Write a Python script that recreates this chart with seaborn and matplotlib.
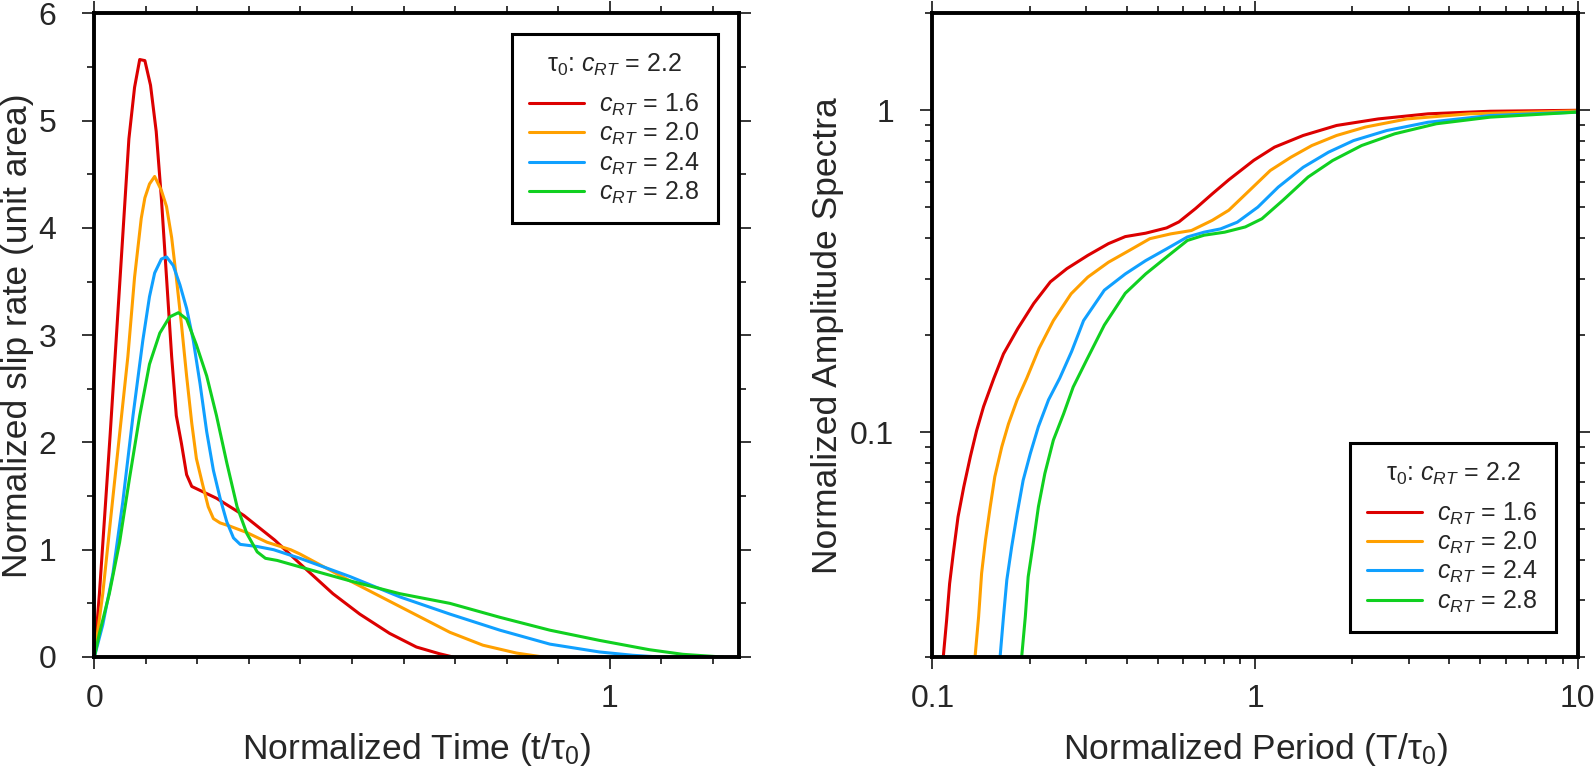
import numpy as np
import pandas as pd
import matplotlib
matplotlib.use("Agg")
import matplotlib.pyplot as plt
import seaborn as sns
from matplotlib.ticker import FixedLocator, MultipleLocator, NullFormatter, FixedFormatter, LogLocator

# ---------------- data ----------------
crt_labels = [r"$c_{RT}$ = 1.6", r"$c_{RT}$ = 2.0", r"$c_{RT}$ = 2.4", r"$c_{RT}$ = 2.8"]
legend_title = r"τ$_0$: $c_{RT}$ = 2.2"
line_colors = ["#dc0000", "#ffa000", "#10a0ff", "#10d020"]

# left panel: normalized slip rate vs normalized time
t_16 = [0, 0.0098, 0.0306, 0.050, 0.067, 0.078, 0.088, 0.098, 0.109, 0.120, 0.130, 0.140, 0.150, 0.159,
        0.169, 0.179, 0.189, 0.237, 0.290, 0.350, 0.399, 0.463, 0.515, 0.573, 0.625, 0.670, 0.696]
s_16 = [0, 0.59, 2.07, 3.54, 4.83, 5.31, 5.57, 5.56, 5.33, 4.90, 4.28, 3.54, 2.80, 2.25,
        1.99, 1.70, 1.59, 1.48, 1.32, 1.09, 0.87, 0.59, 0.40, 0.22, 0.093, 0.03, 0.0]

t_20 = [0, 0.0163, 0.0325, 0.0488, 0.065, 0.078, 0.091, 0.098, 0.107, 0.117, 0.130, 0.140, 0.150, 0.159,
        0.169, 0.179, 0.189, 0.198, 0.211, 0.221, 0.231, 0.244, 0.263, 0.296, 0.335, 0.381, 0.399, 0.496,
        0.593, 0.690, 0.754, 0.819, 0.871]
s_20 = [0, 0.59, 1.33, 2.07, 2.80, 3.54, 4.09, 4.28, 4.41, 4.48, 4.35, 4.20, 3.91, 3.54,
        3.10, 2.62, 2.18, 1.85, 1.59, 1.40, 1.29, 1.25, 1.22, 1.16, 1.07, 1.00, 0.96, 0.71,
        0.47, 0.23, 0.11, 0.037, 0.0]

t_24 = [0, 0.0163, 0.036, 0.055, 0.075, 0.094, 0.107, 0.117, 0.130, 0.140, 0.153, 0.166, 0.179, 0.192,
        0.205, 0.218, 0.231, 0.244, 0.257, 0.270, 0.283, 0.316, 0.348, 0.399, 0.496, 0.593, 0.690, 0.787,
        0.884, 0.980, 1.045, 1.097]
s_24 = [0, 0.30, 0.78, 1.44, 2.25, 2.95, 3.36, 3.58, 3.71, 3.73, 3.65, 3.47, 3.25, 2.95,
        2.55, 2.10, 1.74, 1.48, 1.26, 1.11, 1.05, 1.03, 1.00, 0.92, 0.75, 0.56, 0.40, 0.25,
        0.12, 0.047, 0.016, 0.0]

t_28 = [0, 0.0098, 0.029, 0.049, 0.068, 0.088, 0.107, 0.127, 0.146, 0.163, 0.179, 0.198, 0.218, 0.237,
        0.257, 0.277, 0.296, 0.316, 0.332, 0.355, 0.399, 0.496, 0.593, 0.690, 0.787, 0.884, 0.980, 1.077,
        1.142, 1.200, 1.22]
s_28 = [0, 0.22, 0.59, 1.07, 1.66, 2.25, 2.73, 3.02, 3.17, 3.21, 3.15, 2.91, 2.62, 2.25,
        1.81, 1.40, 1.15, 0.98, 0.92, 0.90, 0.84, 0.71, 0.59, 0.50, 0.37, 0.25, 0.155, 0.068,
        0.025, 0.006, 0.0]

# right panel: normalized amplitude spectra vs normalized period
p_16 = [0.108, 0.1106, 0.113, 0.116, 0.120, 0.125, 0.131, 0.137, 0.144, 0.155, 0.166, 0.184, 0.206, 0.232,
        0.261, 0.303, 0.351, 0.396, 0.458, 0.532, 0.581, 0.654, 0.737, 0.829, 0.991, 1.149, 1.41, 1.79,
        2.41, 3.44, 5.36, 10]
a_16 = [0.020, 0.026, 0.0338, 0.042, 0.0545, 0.0675, 0.0838, 0.101, 0.120, 0.147, 0.175, 0.210, 0.251, 0.293,
        0.322, 0.354, 0.385, 0.405, 0.415, 0.431, 0.450, 0.495, 0.550, 0.608, 0.699, 0.768, 0.835, 0.897,
        0.940, 0.975, 0.993, 1.0]

p_20 = [0.1355, 0.139, 0.142, 0.146, 0.151, 0.156, 0.164, 0.172, 0.183, 0.196, 0.214, 0.237, 0.269, 0.303,
        0.351, 0.408, 0.472, 0.548, 0.635, 0.737, 0.829, 0.962, 1.115, 1.293, 1.50, 1.79, 2.20, 2.96,
        4.62, 10]
a_20 = [0.020, 0.0267, 0.0364, 0.0462, 0.0586, 0.0726, 0.090, 0.106, 0.126, 0.147, 0.182, 0.222, 0.269, 0.303,
        0.337, 0.367, 0.399, 0.413, 0.423, 0.455, 0.489, 0.564, 0.650, 0.715, 0.777, 0.835, 0.887, 0.940,
        0.975, 0.996]

p_24 = [0.162, 0.166, 0.170, 0.176, 0.183, 0.191, 0.201, 0.213, 0.229, 0.248, 0.270, 0.294, 0.341, 0.396,
        0.458, 0.532, 0.617, 0.695, 0.782, 0.881, 1.02, 1.18, 1.41, 1.69, 2.02, 2.56, 3.44, 5.36, 10]
a_24 = [0.020, 0.0267, 0.0347, 0.0440, 0.0558, 0.0708, 0.0857, 0.104, 0.126, 0.147, 0.178, 0.222, 0.276, 0.310,
        0.341, 0.371, 0.404, 0.418, 0.428, 0.449, 0.500, 0.577, 0.665, 0.741, 0.805, 0.865, 0.918, 0.963, 0.987]

p_28 = [0.189, 0.194, 0.198, 0.206, 0.213, 0.223, 0.237, 0.255, 0.273, 0.301, 0.341, 0.396, 0.458, 0.532,
        0.617, 0.695, 0.805, 0.933, 1.05, 1.22, 1.46, 1.74, 2.14, 2.71, 3.65, 5.36, 10]
a_28 = [0.020, 0.0267, 0.0355, 0.0462, 0.0586, 0.0743, 0.0944, 0.114, 0.138, 0.168, 0.215, 0.270, 0.310, 0.350,
        0.394, 0.409, 0.418, 0.434, 0.460, 0.525, 0.620, 0.698, 0.777, 0.845, 0.908, 0.952, 0.987]

# ---------------- build tables ----------------
left_series = [(t_16, s_16), (t_20, s_20), (t_24, s_24), (t_28, s_28)]
right_series = [(p_16, a_16), (p_20, a_20), (p_24, a_24), (p_28, a_28)]

df_left = pd.concat([pd.DataFrame({"t": x, "s": y, "case": lab})
                     for (x, y), lab in zip(left_series, crt_labels)], ignore_index=True)
df_right = pd.concat([pd.DataFrame({"p": x, "a": y, "case": lab})
                      for (x, y), lab in zip(right_series, crt_labels)], ignore_index=True)
palette = dict(zip(crt_labels, line_colors))

# ---------------- style ----------------
sns.set_theme(style="ticks")
plt.rcParams["font.family"] = ["Liberation Sans", "DejaVu Sans"]
plt.rcParams["mathtext.fontset"] = "custom"
plt.rcParams["mathtext.rm"] = "Liberation Sans"
plt.rcParams["mathtext.it"] = "Liberation Sans:italic"
plt.rcParams["mathtext.bf"] = "Liberation Sans:bold"
plt.rcParams["axes.edgecolor"] = "black"

fig = plt.figure(figsize=(15.94, 7.66), dpi=100)
ax1 = fig.add_axes([0.0592, 0.1423, 0.4041, 0.8402])
ax2 = fig.add_axes([0.585, 0.1423, 0.4047, 0.8402])

LW = 2.2
sns.lineplot(data=df_left, x="t", y="s", hue="case", palette=palette, ax=ax1,
             linewidth=LW, estimator=None, sort=False)
sns.lineplot(data=df_right, x="p", y="a", hue="case", palette=palette, ax=ax2,
             linewidth=LW, estimator=None, sort=False)

TICK_FS = 23
XLABEL_FS = 25.5
YLABEL_FS = 25.5
LEG_FS = 18

def style_axes(ax):
    for sp in ax.spines.values():
        sp.set_visible(True)
        sp.set_linewidth(2.8)
        sp.set_color("black")
        sp.set_zorder(5)
    ax.tick_params(which="both", direction="out", top=True, right=True,
                   labeltop=False, labelright=False, color="black", width=1.1)
    ax.tick_params(which="major", length=8.5, labelsize=TICK_FS)
    ax.tick_params(axis="x", which="major", pad=11)
    ax.tick_params(axis="y", which="major", pad=19)
    ax.tick_params(which="minor", length=5)
    ax.grid(False)

# left axes
ax1.set_xlim(0, 1.25)
ax1.set_ylim(0, 6)
ax1.xaxis.set_major_locator(FixedLocator([0, 1]))
ax1.xaxis.set_minor_locator(MultipleLocator(0.1))
ax1.yaxis.set_major_locator(MultipleLocator(1))
ax1.yaxis.set_minor_locator(MultipleLocator(0.5))
ax1.set_xticklabels(["0", "1"])
style_axes(ax1)
ax1.set_xlabel(r"Normalized Time (t/τ$_0$)", fontsize=XLABEL_FS)
ax1.set_ylabel("Normalized slip rate (unit area)", fontsize=YLABEL_FS)
ax1.xaxis.set_label_coords(0.5, -0.115)
ax1.yaxis.set_label_coords(-0.094, 0.5)

# right axes
ax2.set_xscale("log")
ax2.set_yscale("log")
ax2.set_xlim(0.1, 10)
ax2.set_ylim(0.02, 2)
ax2.xaxis.set_major_locator(FixedLocator([0.1, 1, 10]))
ax2.xaxis.set_major_formatter(FixedFormatter(["0.1", "1", "10"]))
ax2.xaxis.set_minor_locator(LogLocator(base=10, subs=np.arange(2, 10), numticks=20))
ax2.xaxis.set_minor_formatter(NullFormatter())
ax2.yaxis.set_major_locator(FixedLocator([0.1, 1]))
ax2.yaxis.set_major_formatter(FixedFormatter(["0.1", "1"]))
ax2.yaxis.set_minor_locator(LogLocator(base=10, subs=np.arange(2, 10), numticks=20))
ax2.yaxis.set_minor_formatter(NullFormatter())
style_axes(ax2)
ax2.set_xlabel(r"Normalized Period (T/τ$_0$)", fontsize=XLABEL_FS)
ax2.set_ylabel("Normalized Amplitude Spectra", fontsize=YLABEL_FS)
ax2.xaxis.set_label_coords(0.5, -0.115)
ax2.yaxis.set_label_coords(-0.137, 0.5)

def make_legend(ax, loc, anchor):
    handles, labels = ax.get_legend_handles_labels()
    leg = ax.legend(handles, labels, title=legend_title, loc=loc, bbox_to_anchor=anchor,
                    borderaxespad=0, fontsize=LEG_FS, title_fontsize=LEG_FS,
                    frameon=True, fancybox=False, framealpha=1, edgecolor="black",
                    handlelength=2.2, handletextpad=0.6, labelspacing=0.12,
                    borderpad=0.7)
    leg.get_frame().set_linewidth(2.2)
    for h in leg.get_lines():
        h.set_linewidth(LW)
    leg._legend_box.sep = 10
    leg.set_zorder(10)
    return leg

make_legend(ax1, "upper right", (0.968, 0.9675))
make_legend(ax2, "lower right", (0.9667, 0.0388))

fig.savefig("out.png", dpi=100)
